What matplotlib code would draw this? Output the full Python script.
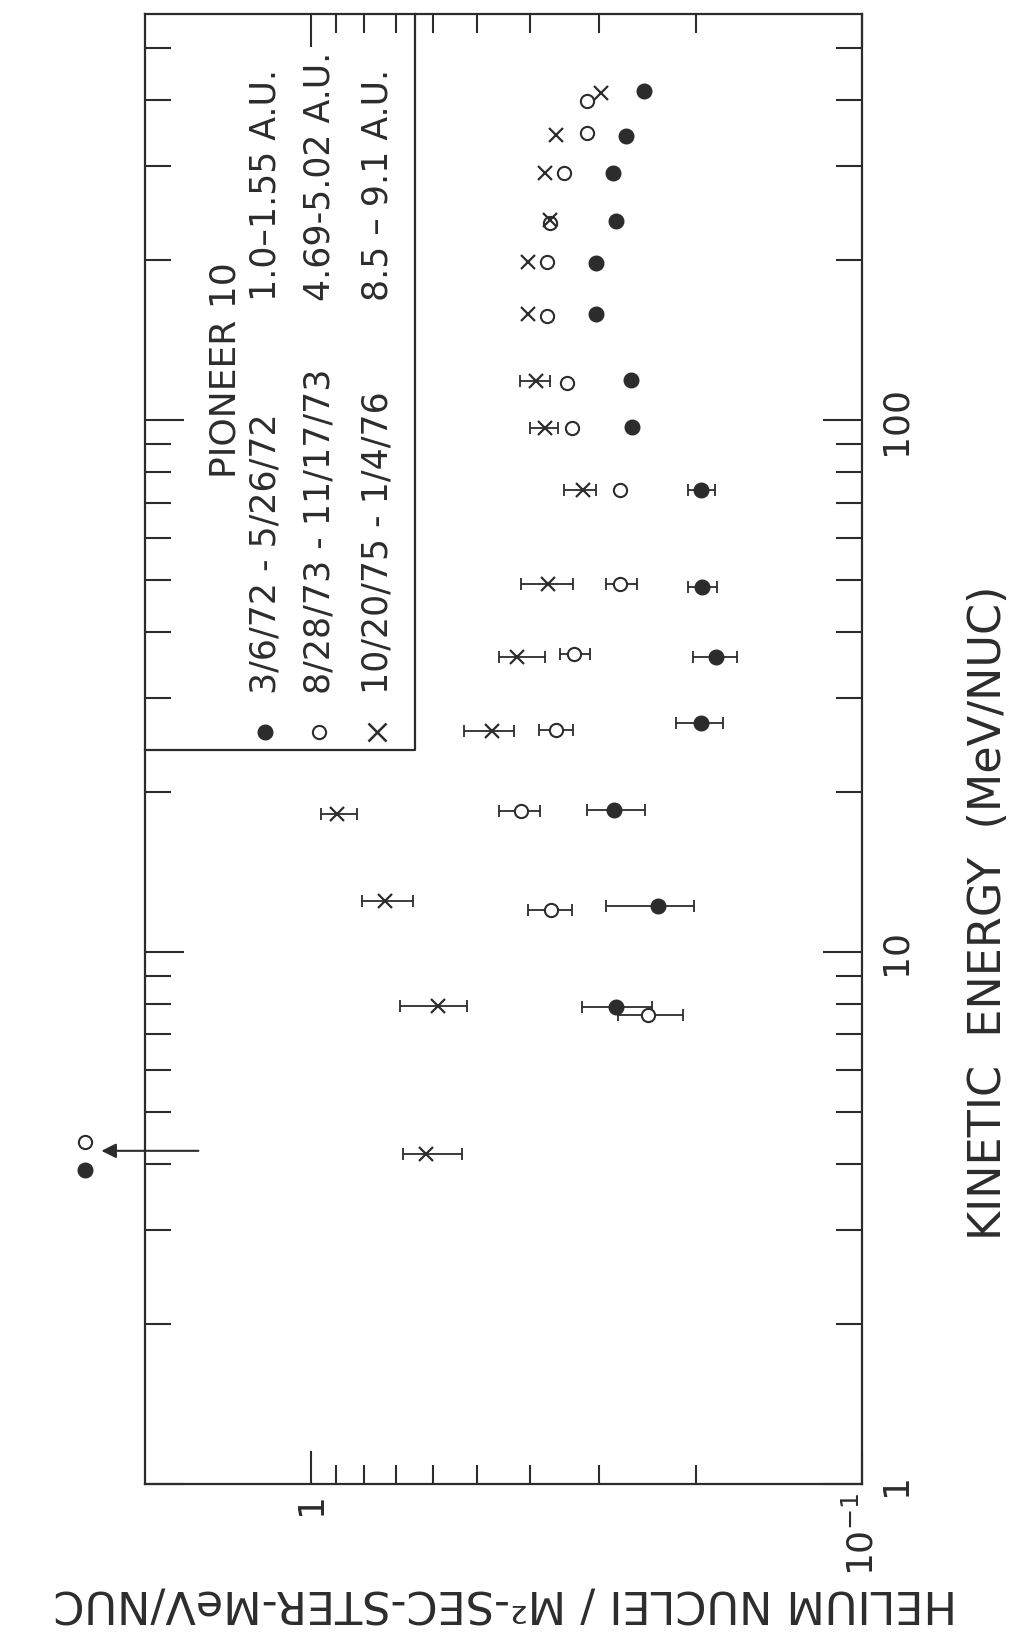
import numpy as np
import matplotlib
matplotlib.use("Agg")
import matplotlib.pyplot as plt
from matplotlib.ticker import FixedLocator, FixedFormatter, NullFormatter

nan = np.nan

# ---------------- data ----------------
# Series 1: 3/6/72 - 5/26/72  (filled circles)
E_filled = [416, 342, 291, 237, 197, 158, 119, 97, 74, 48.6, 35.9, 27.0, 18.5, 12.2, 7.87]
F_filled = [0.249, 0.268, 0.283, 0.280, 0.304, 0.304, 0.262, 0.261, 0.196, 0.195, 0.184, 0.196, 0.282, 0.235, 0.280]
F_filled_lo = [nan] * 8 + [0.185, 0.1835, 0.1685, 0.179, 0.248, 0.202, 0.240]
F_filled_hi = [nan] * 8 + [0.207, 0.2066, 0.2026, 0.2176, 0.316, 0.2915, 0.3226]

# Series 2: 8/28/73 - 11/17/73 (open circles)
E_open = [398, 347, 291, 235, 198, 157, 117.5, 96.5, 73.9, 49.1, 36.3, 26.2, 18.4, 12.0, 7.60]
F_open = [0.316, 0.315, 0.348, 0.369, 0.373, 0.373, 0.343, 0.336, 0.275, 0.275, 0.333, 0.359, 0.416, 0.367, 0.245]
F_open_lo = [nan] * 9 + [0.2564, 0.3115, 0.335, 0.3841, 0.3364, 0.2115]
F_open_hi = [nan] * 9 + [0.2918, 0.3532, 0.3857, 0.4557, 0.4043, 0.2769]

# Series 3: 10/20/75 - 1/4/76 (crosses)
E_cross = [412, 344, 291, 238, 198.5, 158, 118.6, 96.5, 73.9, 49.1, 35.9, 26.0, 18.2, 12.5, 7.92, 4.17]
F_cross = [0.298, 0.359, 0.376, 0.369, 0.403, 0.403, 0.390, 0.376, 0.321, 0.371, 0.423, 0.470, 0.898, 0.734, 0.587, 0.617]
F_cross_lo = [nan] * 6 + [0.368, 0.356, 0.304, 0.334, 0.376, 0.428, 0.826, 0.652, 0.521, 0.531]
F_cross_hi = [nan] * 6 + [0.418, 0.400, 0.347, 0.416, 0.456, 0.528, 0.960, 0.809, 0.688, 0.682]

# Off-scale lowest-energy points (drawn beyond the left frame) and arrow
F_offscale = 2.57
E_offscale_filled = 3.9
E_offscale_open = 4.4
arrow_F = [1.6, 2.4]
arrow_E = 4.23

# Axis ticks / labels
flux_major = [0.1, 1.0]
flux_major_labels = [r"$10^{-1}$", "1"]
flux_minor = [0.2, 0.3, 0.4, 0.5, 0.6, 0.7, 0.8, 0.9]
energy_major = [1, 10, 100]
energy_major_labels = ["1", "10", "100"]
energy_minor = [2, 3, 4, 5, 6, 7, 8, 9, 20, 30, 40, 50, 60, 70, 80, 90, 200, 300, 400, 500]

legend_title = "PIONEER 10"
legend_dates = ["3/6/72 - 5/26/72", "8/28/73 - 11/17/73", "10/20/75 - 1/4/76"]
legend_au = ["1.0\u20131.55 A.U.", "4.69-5.02 A.U.", "8.5 \u2013 9.1 A.U."]
xlabel = "HELIUM NUCLEI / M\u00b2-SEC-STER-MeV/NUC"
ylabel = "KINETIC  ENERGY  (MeV/NUC)"

# ---------------- drawing ----------------
ink = "#2c2c2c"
plt.rcParams["font.family"] = ["DejaVu Sans"]
plt.rcParams["mathtext.fontset"] = "dejavusans"

fig = plt.figure(figsize=(10.16, 16.41), dpi=100)
fig.patch.set_facecolor("white")
ax = fig.add_axes([0.14272, 0.09567, 0.70571, 0.89580])
ax.set_xscale("log")
ax.set_yscale("log")
ax.set_xlim(2.0, 0.1)
ax.set_ylim(1, 580)

for s in ax.spines.values():
    s.set_linewidth(1.6)
    s.set_color(ink)

err_kw = dict(fmt="none", ecolor=ink, elinewidth=1.3, capsize=4.2, capthick=1.3, zorder=2)


def draw(F, E, lo, hi, mkw):
    F = np.asarray(F, float)
    E = np.asarray(E, float)
    lo = np.asarray(lo, float)
    hi = np.asarray(hi, float)
    m = ~np.isnan(lo)
    ax.errorbar(F[m], E[m], xerr=[F[m] - lo[m], hi[m] - F[m]], **err_kw)
    ax.plot(F, E, linestyle="none", zorder=3, **mkw)


filled_kw = dict(marker="o", ms=10.5, mfc=ink, mec=ink, mew=1.0)
open_kw = dict(marker="o", ms=9.5, mfc="white", mec=ink, mew=1.5)
cross_kw = dict(marker="x", ms=10, mec=ink, mew=1.6)

draw(F_filled, E_filled, F_filled_lo, F_filled_hi, filled_kw)
draw(F_open, E_open, F_open_lo, F_open_hi, open_kw)
draw(F_cross, E_cross, F_cross_lo, F_cross_hi, cross_kw)

ax.plot([F_offscale], [E_offscale_filled], linestyle="none", clip_on=False, zorder=3, **filled_kw)
ax.plot([F_offscale], [E_offscale_open], linestyle="none", clip_on=False, zorder=3, **open_kw)
ax.annotate("", xy=(arrow_F[1], arrow_E), xytext=(arrow_F[0], arrow_E),
            arrowprops=dict(arrowstyle="-|>", color=ink, lw=1.5, mutation_scale=22,
                            shrinkA=0, shrinkB=0),
            annotation_clip=False)

# ticks
ax.xaxis.set_major_locator(FixedLocator(flux_major))
ax.xaxis.set_major_formatter(FixedFormatter(flux_major_labels))
ax.xaxis.set_minor_locator(FixedLocator(flux_minor))
ax.xaxis.set_minor_formatter(NullFormatter())
ax.yaxis.set_major_locator(FixedLocator(energy_major))
ax.yaxis.set_major_formatter(FixedFormatter(energy_major_labels))
ax.yaxis.set_minor_locator(FixedLocator(energy_minor))
ax.yaxis.set_minor_formatter(NullFormatter())

ax.tick_params(axis="x", which="major", direction="in", length=24, width=1.5, color=ink,
               top=True, bottom=True, labelsize=26, pad=6, labelcolor=ink, labelrotation=90)
ax.tick_params(axis="x", which="minor", direction="in", length=14, width=1.5, color=ink,
               top=True, bottom=True)
ax.tick_params(axis="y", which="major", direction="in", length=28, width=1.5, color=ink,
               left=True, right=True, labelleft=False, labelright=True,
               labelsize=26, pad=12, labelcolor=ink, labelrotation=90)
ax.tick_params(axis="y", which="minor", direction="in", length=19, width=1.5, color=ink,
               left=True, right=True, labelleft=False, labelright=False)
for lab in ax.get_yticklabels():
    lab.set_verticalalignment("center")

# legend box (drawn by hand, text rotated like the rest of the figure)
ax.plot([0, 0.3766, 0.3766], [0.4993, 0.4993, 1.0], transform=ax.transAxes,
        color=ink, lw=1.6, clip_on=False, zorder=4)
ax.text(0.1116, 0.6844, legend_title, transform=ax.transAxes, rotation=90,
        rotation_mode="anchor", ha="left", va="center", fontsize=26, color=ink)
row_x = [0.168, 0.2427, 0.3236]
mk = [filled_kw, open_kw, dict(marker="x", ms=13, mec=ink, mew=1.8)]
for x, m, d, au in zip(row_x, mk, legend_dates, legend_au):
    ax.plot([x], [0.5116], linestyle="none", transform=ax.transAxes, clip_on=False, **m)
    ax.text(x, 0.5374, d, transform=ax.transAxes, rotation=90, rotation_mode="anchor",
            ha="left", va="center", fontsize=25, color=ink)
    ax.text(x, 0.805, au, transform=ax.transAxes, rotation=90, rotation_mode="anchor",
            ha="left", va="center", fontsize=25, color=ink)

# axis titles
fig.text(0.9734, 0.4436, ylabel, rotation=90, ha="center", va="center", fontsize=32, color=ink)
fig.text(0.497, 0.0235, xlabel, rotation=180, ha="center", va="center", fontsize=32, color=ink)

fig.savefig("out.png", dpi=100, facecolor="white")
